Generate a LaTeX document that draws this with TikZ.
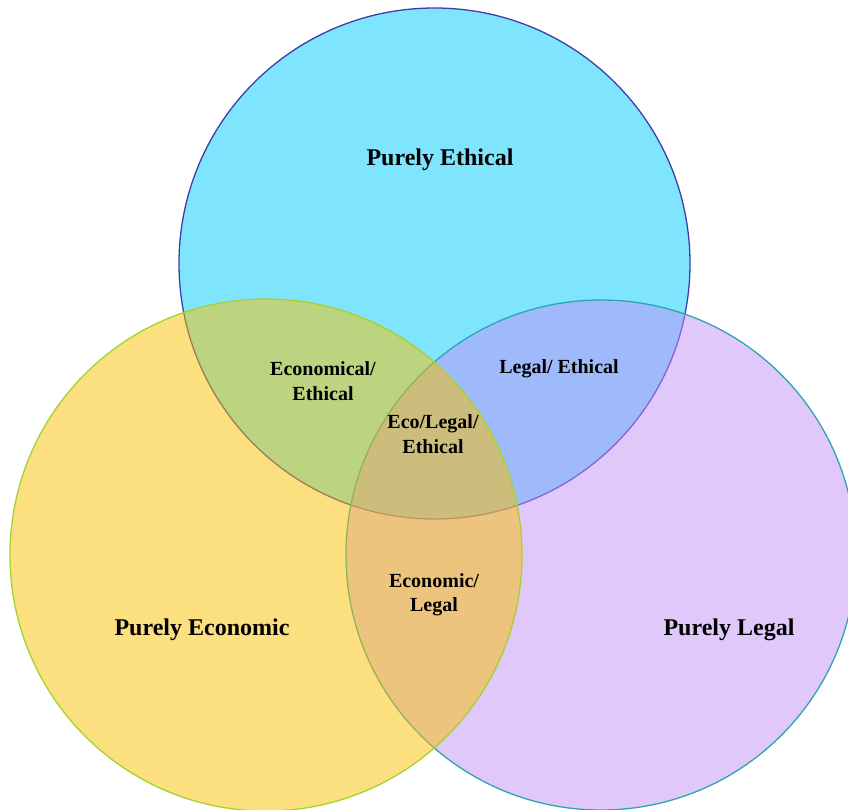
\documentclass[tikz,border=0pt]{standalone}
\usepackage{fontspec}
\setmainfont{Liberation Serif}

\definecolor{ethicfill}{RGB}{0,204,255}
\definecolor{legalfill}{RGB}{193,145,247}
\definecolor{econfill}{RGB}{249,193,0}
\definecolor{ethicedge}{RGB}{62,62,165}
\definecolor{legaledge}{RGB}{45,165,175}
\definecolor{econedge}{RGB}{165,210,45}

\tikzset{
  ring/.style={line width=1.3pt, fill opacity=0.5},
  bigtag/.style={font=\bfseries\fontsize{24}{27}\selectfont, align=center},
  smalltag/.style={font=\bfseries\fontsize{20}{24.5}\selectfont, align=center}
}

\begin{document}
\begin{tikzpicture}[x=1pt, y=-1pt]

  %% ════ 三个圆（顺序：伦理 → 法律 → 经济）════
  \draw[ring, draw=ethicedge, fill=ethicfill] (434.5,263.5) circle[radius=255.5pt];
  \draw[ring, draw=legaledge, fill=legalfill] (601.0,555.0) circle[radius=255.0pt];
  \draw[ring, draw=econedge, fill=econfill] (266.0,555.0) circle[radius=256.0pt];

  %% ════ 标签 ════
  \node[bigtag] (ethical) at (440,160) {Purely Ethical};
  \node[bigtag] (economic) at (202,630) {Purely Economic};
  \node[bigtag] (legal) at (729,630) {Purely Legal};

  \node[smalltag] (ecoeth) at (323,381) {Economical/\\Ethical};
  \node[smalltag] (legeth) at (559,369) {Legal/ Ethical};
  \node[smalltag] (all) at (433,434) {Eco/Legal/\\Ethical};
  \node[smalltag] (ecoleg) at (434,595) {Economic/\\Legal};

  % 钉死画布
  \pgfresetboundingbox
  \path[use as bounding box] (0,0) rectangle (848,809);
\end{tikzpicture}
\end{document}
